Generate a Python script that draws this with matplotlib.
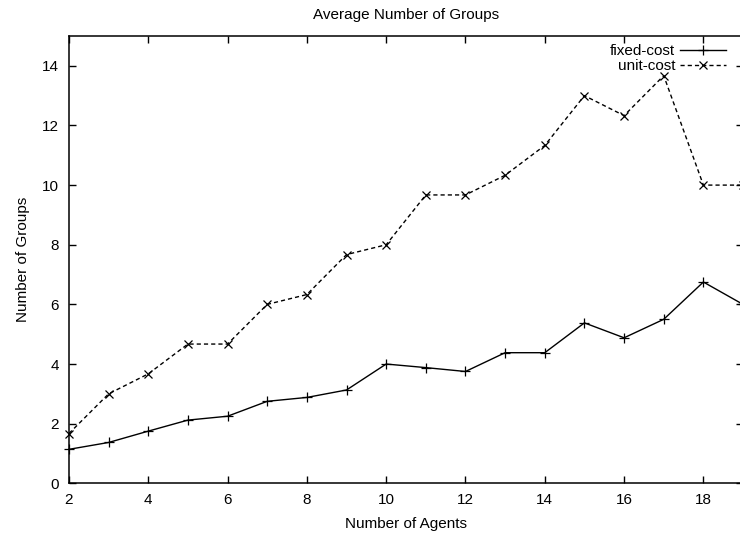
import matplotlib.pyplot as plt

plt.rcParams['font.family'] = ['Liberation Sans', 'DejaVu Sans']
plt.rcParams['font.size'] = 11

# average group counts per number of agents
agents = [2, 3, 4, 5, 6, 7, 8, 9, 10, 11, 12, 13, 14, 15, 16, 17, 18, 19]
fixed_cost = [1.14, 1.37, 1.75, 2.12, 2.25, 2.75, 2.88, 3.13, 4.0, 3.88, 3.75,
              4.38, 4.38, 5.38, 4.88, 5.5, 6.75, 6.0]
unit_cost = [1.67, 3.0, 3.67, 4.67, 4.67, 6.0, 6.33, 7.67, 8.0, 9.67, 9.67,
             10.33, 11.33, 13.0, 12.33, 13.67, 10.0, 10.0]

xticks = [2, 4, 6, 8, 10, 12, 14, 16, 18]
yticks = [0, 2, 4, 6, 8, 10, 12, 14]

fig = plt.figure(figsize=(7.4, 5.34), dpi=100)
ax = fig.add_axes([0.0932, 0.0949, 0.9109, 0.8377])

ax.plot(agents, fixed_cost, color='black', linewidth=1.0, marker='+',
        markersize=7, markeredgewidth=0.9, label='fixed-cost', clip_on=False)
ax.plot(agents, unit_cost, color='black', linewidth=1.0, marker='x',
        markersize=6, markeredgewidth=0.9, linestyle=(0, (3, 2.2)),
        label='unit-cost', clip_on=False)

ax.set_xlim(2, 19)
ax.set_ylim(0, 15)
ax.set_xticks(xticks)
ax.set_yticks(yticks)
ax.tick_params(direction='in', length=5, width=1.0, top=True, right=True,
               labelsize=11, pad=7)
for sp in ax.spines.values():
    sp.set_linewidth(1.1)

ax.set_title('Average Number of Groups', fontsize=11, pad=12)
ax.set_xlabel('Number of Agents', fontsize=11, labelpad=7)
ax.set_ylabel('Number of Groups', fontsize=11, labelpad=9)

ax.legend(loc='upper right', bbox_to_anchor=(0.988, 1.002), frameon=False,
          markerfirst=False, handlelength=3.0, handletextpad=0.3,
          labelspacing=0.05, borderaxespad=0.2, fontsize=11)

fig.savefig('out.png', dpi=100)
